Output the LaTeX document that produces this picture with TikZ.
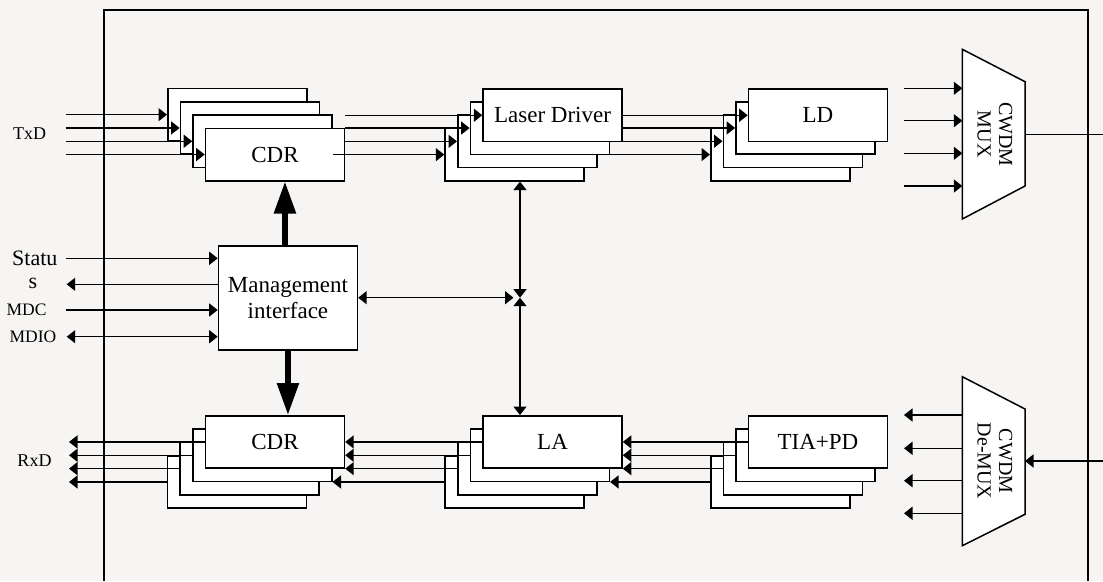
\documentclass[tikz,border=0pt]{standalone}
\usepackage{fontspec}
\setmainfont{Liberation Serif}
\usetikzlibrary{arrows.meta}
\definecolor{bg}{RGB}{246,245,243}
\begin{document}
\begin{tikzpicture}[x=1pt,y=-1pt,line width=1.5pt,
  >={Triangle[length=8.5pt,width=13pt]},
  box/.style={draw,fill=white,minimum width=139pt,minimum height=52.4pt,inner sep=0pt,anchor=north west,font=\fontsize{23}{26}\selectfont},
  mgbox/.style={draw,fill=white,minimum width=139pt,minimum height=104.3pt,inner sep=0pt,anchor=north west,align=center,font=\fontsize{23}{25.5}\selectfont},
  big/.style={line width=5.5pt,-{Triangle[length=32pt,width=21pt]}},
  lbl/.style={inner sep=0pt,font=\fontsize{18}{20}\selectfont},
  muxtext/.style={inner sep=0pt,rotate=-90,align=center,font=\fontsize{20}{21.5}\selectfont}]
\useasboundingbox (0,0) rectangle (1103,581);
\fill[bg] (0,0) rectangle (1103,581);
% outer frame
\draw (104,581) -- (104,10) -- (1088,10) -- (1088,581);

% TX CDR stack (front bottom-right)
\node[box] (ct1) at (167,87.7) {};
\node[box] (ct2) at (179.6,101) {};
\node[box] (ct3) at (192.2,114.3) {};
\node[box] (ct4) at (204.7,127.6) {CDR};
% Laser driver stack (front top-right)
\node[box] (lv4) at (444.3,127.7) {};
\node[box] (lv3) at (457,114.4) {};
\node[box] (lv2) at (469.6,101.1) {};
\node[box] (lv1) at (482.3,88.3) {Laser Driver};
% LD stack
\node[box] (ld4) at (710,127.6) {};
\node[box] (ld3) at (722.5,114.3) {};
\node[box] (ld2) at (735.1,101) {};
\node[box] (ld1) at (747.7,88.3) {LD};
% RX CDR stack
\node[box] (cr4) at (166.7,455) {};
\node[box] (cr3) at (179.3,441.7) {};
\node[box] (cr2) at (192,428.3) {};
\node[box] (cr1) at (204.7,415) {CDR};
% LA stack
\node[box] (la4) at (444.3,455) {};
\node[box] (la3) at (457,441.7) {};
\node[box] (la2) at (469.6,428.3) {};
\node[box] (la1) at (482.3,415) {LA};
% TIA stack
\node[box] (ti4) at (710,455) {};
\node[box] (ti3) at (722.5,441.7) {};
\node[box] (ti2) at (735.1,428.3) {};
\node[box] (ti1) at (747.7,415) {TIA+PD};

% management
\node[mgbox] (mg) at (217.7,245) {Management\\interface};

% MUX / DeMUX
\draw[fill=white] (962.3,49.3) -- (1025,81.7) -- (1025,186) -- (962.3,219) -- cycle;
\node[muxtext] (muxt) at (995,134.3) {CWDM\\MUX};
\draw[fill=white] (962.3,376.7) -- (1025,409) -- (1025,514.3) -- (962.3,545.7) -- cycle;
\node[muxtext] (dmxt) at (995,461) {CWDM\\De-MUX};
\coordinate (muxW) at (962.3,134.3);
\coordinate (muxE) at (1025,134.3);
\coordinate (dmW) at (962.3,461);
\coordinate (dmE) at (1025,461);

% labels
\node[lbl] (txd) at (29.5,133.3) {TxD};
\node[lbl] (rxd) at (34.5,461) {RxD};
\node[lbl,font=\fontsize{22}{24}\selectfont] (stat1) at (34.8,258.3) {Statu};
\node[lbl,font=\fontsize{22}{24}\selectfont] (stat2) at (33,283.5) {s};
\node[lbl,font=\fontsize{17.5}{20}\selectfont] (mdc) at (26.5,310) {MDC};
\node[lbl,font=\fontsize{17.5}{20}\selectfont] (mdio) at (33,336.7) {MDIO};

% TX inputs
\coordinate (txl) at (65.7,0);
\foreach \k in {1,...,4} \draw[->] (txl |- ct\k.west) -- (ct\k.west);
% CDR -> Laser driver
\foreach \k in {1,...,3} \draw[->] (lv\k.west -| ct4.east) -- (lv\k.west);
\draw[->] (lv4.west -| ct3.east) -- (lv4.west);
% Laser driver -> LD
\foreach \k in {1,...,3} \draw[->] (ld\k.west -| lv1.east) -- (ld\k.west);
\draw[->] (ld4.west -| lv2.east) -- (ld4.west);
% MUX inputs and output
\coordinate (mi1) at (904.3,88.3);
\coordinate (mi2) at (904.3,120.7);
\coordinate (mi3) at (904.3,153.3);
\coordinate (mi4) at (904.3,186);
\foreach \k in {1,...,4} \draw[->] (mi\k) -- (mi\k -| muxW);
\coordinate (mo) at (1103,134.3);
\draw (muxE) -- (mo);

% RX chain
\foreach \k in {1,...,3} \draw[->] (ti\k.west) -- (ti\k.west -| la1.east);
\draw[->] (ti4.west) -- (ti4.west -| la2.east);
\foreach \k in {1,...,3} \draw[->] (la\k.west) -- (la\k.west -| cr1.east);
\draw[->] (la4.west) -- (la4.west -| cr2.east);
\coordinate (rxl) at (69,0);
\foreach \k in {1,...,4} \draw[->] (cr\k.west) -- (cr\k.west -| rxl);
% DeMUX outputs and input
\coordinate (do1) at (904,415);
\coordinate (do2) at (904,448.3);
\coordinate (do3) at (904,480.7);
\coordinate (do4) at (904,513.3);
\foreach \k in {1,...,4} \draw[->] (do\k -| dmW) -- (do\k);
\coordinate (di) at (1103,461);
\draw[->] (di) -- (dmE);

% management signals
\coordinate (sti) at (65.7,258.3);
\coordinate (sto) at (66.7,284.3);
\coordinate (mdcl) at (65.7,310);
\coordinate (mdiol) at (66.7,336.7);
\draw[->] (sti) -- (sti -| mg.west);
\draw[<-] (sto) -- (sto -| mg.west);
\draw[->] (mdcl) -- (mdcl -| mg.west);
\draw[<->] (mdiol) -- (mdiol -| mg.west);

% bus
\coordinate (J) at (520,297.7);
\draw[<->] (J |- lv4.south) -- (J);
\draw[<->] (J) -- (J |- la1.north);
\draw[<->] (mg.east |- J) -- ([xshift=-6.5pt]J);

% thick arrows
\draw[big] ([xshift=-3pt]mg.north) -- ([xshift=-3pt]mg.north |- ct4.south);
\draw[big] (mg.south) -- (mg.south |- cr1.north);
\end{tikzpicture}
\end{document}
